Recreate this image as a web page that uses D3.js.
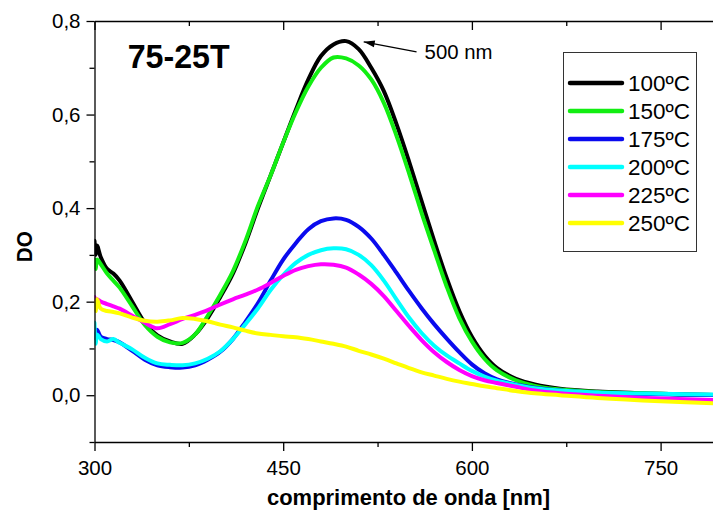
<!DOCTYPE html>
<html><head><meta charset="utf-8">
<script src="https://cdn.jsdelivr.net/npm/d3@7"></script>
<style>
html,body{margin:0;padding:0;background:#fff;overflow:hidden}
svg{display:block;font-family:"Liberation Sans",Arial,Helvetica,sans-serif}
</style></head><body>
<svg id="c" width="713" height="517"></svg>
<script>
const wavelengths = [300,301,302,305,310,315,320,330,340,350,360,370,380,390,400,410,420,430,440,450,460,470,480,490,500,510,520,530,540,550,560,570,580,590,600,610,620,635,650,670,700,750,800];
const seriesNames = ["100ºC","150ºC","175ºC","200ºC","225ºC","250ºC"];
const seriesColors = ["#000000","#12ee12","#0a0aee","#00ffff","#ff00ff","#ffff00"];
const do100 = [0.33,0.30,0.32,0.295,0.27,0.26,0.245,0.20,0.155,0.128,0.115,0.11,0.13,0.165,0.21,0.26,0.325,0.40,0.47,0.54,0.61,0.675,0.725,0.75,0.757,0.74,0.70,0.65,0.58,0.50,0.415,0.33,0.25,0.18,0.125,0.085,0.058,0.035,0.023,0.014,0.008,0.003,0.0];
const do150 = [0.29,0.27,0.29,0.28,0.26,0.245,0.23,0.19,0.15,0.125,0.113,0.112,0.13,0.17,0.215,0.265,0.33,0.405,0.47,0.54,0.605,0.66,0.70,0.722,0.72,0.705,0.675,0.625,0.555,0.475,0.39,0.31,0.232,0.165,0.115,0.078,0.053,0.032,0.02,0.012,0.007,0.003,0.0];
const do175 = [0.13,0.12,0.14,0.125,0.12,0.118,0.113,0.095,0.076,0.064,0.06,0.059,0.064,0.076,0.093,0.12,0.157,0.197,0.245,0.29,0.325,0.355,0.372,0.378,0.375,0.36,0.335,0.30,0.262,0.223,0.186,0.152,0.121,0.092,0.066,0.047,0.034,0.023,0.016,0.01,0.005,0.002,0.0];
const do200 = [0.155,0.11,0.13,0.12,0.115,0.12,0.112,0.098,0.08,0.068,0.065,0.064,0.068,0.078,0.094,0.12,0.152,0.186,0.225,0.257,0.283,0.30,0.31,0.314,0.312,0.30,0.278,0.245,0.205,0.166,0.133,0.106,0.085,0.068,0.052,0.04,0.031,0.022,0.015,0.01,0.006,0.003,0.001];
const do225 = [0.21,0.20,0.205,0.20,0.195,0.19,0.185,0.17,0.155,0.143,0.152,0.163,0.172,0.182,0.194,0.205,0.215,0.226,0.24,0.255,0.268,0.276,0.28,0.279,0.273,0.258,0.238,0.212,0.18,0.148,0.118,0.092,0.071,0.054,0.041,0.032,0.026,0.018,0.01,0.004,-0.001,-0.007,-0.011];
const do250 = [0.20,0.18,0.205,0.185,0.18,0.178,0.175,0.166,0.159,0.157,0.16,0.165,0.163,0.158,0.151,0.145,0.138,0.132,0.129,0.126,0.124,0.12,0.115,0.11,0.104,0.095,0.087,0.078,0.068,0.058,0.049,0.042,0.035,0.029,0.024,0.019,0.015,0.009,0.004,0.0,-0.006,-0.013,-0.018];
const seriesValues = [do100,do150,do175,do200,do225,do250];
const xMajorTicks = [300,450,600,750];
const xMinorTicks = [375,525,675];
const yMajorTicks = [0,0.2,0.4,0.6,0.8];
const yMinorTicks = [-0.1,0.1,0.3,0.5,0.7];
const peakLabel = "500 nm";
const peakArrow = {fromX:556, fromY:0.734, toX:514, toY:0.7555};
const titleText = "75-25T";

const svg = d3.select("#c");
const L = 94.5, T = 21, B = 442, R = 723.5;
const x = d3.scaleLinear().domain([300,800]).range([L,R]);
const y = d3.scaleLinear().domain([-0.1,0.8]).range([B,T]);

svg.append("defs").append("clipPath").attr("id","clip")
  .append("rect").attr("x",L).attr("y",T).attr("width",R-L).attr("height",B-T);

const fmt = d => d3.format(".1f")(d).replace(".",",").replace("-0,0","0,0");

// lines
const line = d3.line().x((d,i)=>x(wavelengths[i])).y(d=>y(d)).curve(d3.curveCatmullRom.alpha(0.5));
const g = svg.append("g").attr("clip-path","url(#clip)");
seriesValues.forEach((vals,k)=>{
  g.append("path").attr("d",line(vals)).attr("fill","none")
   .attr("stroke",seriesColors[k]).attr("stroke-width",4)
   .attr("stroke-linejoin","round").attr("stroke-linecap","round");
});

// axes
function style(sel){
  sel.select(".domain").attr("stroke","#000").attr("stroke-width",1.3);
  sel.selectAll(".tick line").attr("stroke","#000").attr("stroke-width",1.3);
  sel.selectAll("text").attr("fill","#000").attr("font-size",20.5).attr("font-family","Liberation Sans, Arial, sans-serif");
}
const gx = svg.append("g").attr("transform",`translate(0,${B})`)
  .call(d3.axisBottom(x).tickValues(xMajorTicks).tickSize(9).tickSizeOuter(0).tickPadding(9).tickFormat(d3.format("d")));
style(gx);
const gxm = svg.append("g").attr("transform",`translate(0,${B})`)
  .call(d3.axisBottom(x).tickValues(xMinorTicks).tickSize(5).tickSizeOuter(0).tickFormat(""));
style(gxm); gxm.select(".domain").remove();

const gt = svg.append("g").attr("transform",`translate(0,${T})`)
  .call(d3.axisTop(x).tickValues(xMajorTicks).tickSize(-9).tickSizeOuter(0).tickFormat(""));
style(gt);
const gtm = svg.append("g").attr("transform",`translate(0,${T})`)
  .call(d3.axisTop(x).tickValues(xMinorTicks).tickSize(-5).tickSizeOuter(0).tickFormat(""));
style(gtm); gtm.select(".domain").remove();

const gy = svg.append("g").attr("transform",`translate(${L},0)`)
  .call(d3.axisLeft(y).tickValues(yMajorTicks).tickSize(8).tickSizeOuter(0).tickPadding(6).tickFormat(fmt));
style(gy);
const gym = svg.append("g").attr("transform",`translate(${L},0)`)
  .call(d3.axisLeft(y).tickValues(yMinorTicks).tickSize(5).tickSizeOuter(0).tickFormat(""));
style(gym); gym.select(".domain").remove();

// axis titles
svg.append("text").attr("x",408.5).attr("y",505).attr("text-anchor","middle")
  .attr("font-weight","bold").attr("font-size",22).attr("textLength",283).attr("lengthAdjust","spacingAndGlyphs")
  .text("comprimento de onda [nm]");
svg.append("text").attr("transform","translate(31.5,246.7) rotate(-90)").attr("text-anchor","middle")
  .attr("font-weight","bold").attr("font-size",22).attr("textLength",31).attr("lengthAdjust","spacingAndGlyphs")
  .text("DO");

// title
svg.append("text").attr("x",127.7).attr("y",68).attr("font-weight","bold").attr("font-size",33)
  .attr("textLength",102).attr("lengthAdjust","spacingAndGlyphs").text(titleText);

// annotation
const ax1 = x(peakArrow.fromX), ay1 = y(peakArrow.fromY), ax2 = x(peakArrow.toX), ay2 = y(peakArrow.toY);
svg.append("line").attr("x1",ax1).attr("y1",ay1).attr("x2",ax2).attr("y2",ay2).attr("stroke","#000").attr("stroke-width",1.2);
const ang = Math.atan2(ay2-ay1, ax2-ax1), hl = 11, hw = 3.5;
const bx = ax2 - hl*Math.cos(ang), by = ay2 - hl*Math.sin(ang);
svg.append("path").attr("d",`M${ax2},${ay2}L${bx - hw*Math.sin(ang)},${by + hw*Math.cos(ang)}L${bx + hw*Math.sin(ang)},${by - hw*Math.cos(ang)}Z`).attr("fill","#000");
svg.append("text").attr("x",x(peakArrow.fromX)+8).attr("y",59).attr("font-size",19.5)
  .attr("textLength",68).attr("lengthAdjust","spacingAndGlyphs").text(peakLabel);

// legend
const lg = svg.append("g");
lg.append("rect").attr("x",563.5).attr("y",52.5).attr("width",133).attr("height",199)
  .attr("fill","#fff").attr("stroke","#333").attr("stroke-width",1);
seriesNames.forEach((n,i)=>{
  const yy = 83 + i*28;
  lg.append("line").attr("x1",570).attr("x2",622).attr("y1",yy).attr("y2",yy)
    .attr("stroke",seriesColors[i]).attr("stroke-width",4.5).attr("stroke-linecap","round");
  lg.append("text").attr("x",628).attr("y",yy+8).attr("font-size",22)
    .attr("textLength",62).attr("lengthAdjust","spacingAndGlyphs").text(n);
});
</script></body></html>
